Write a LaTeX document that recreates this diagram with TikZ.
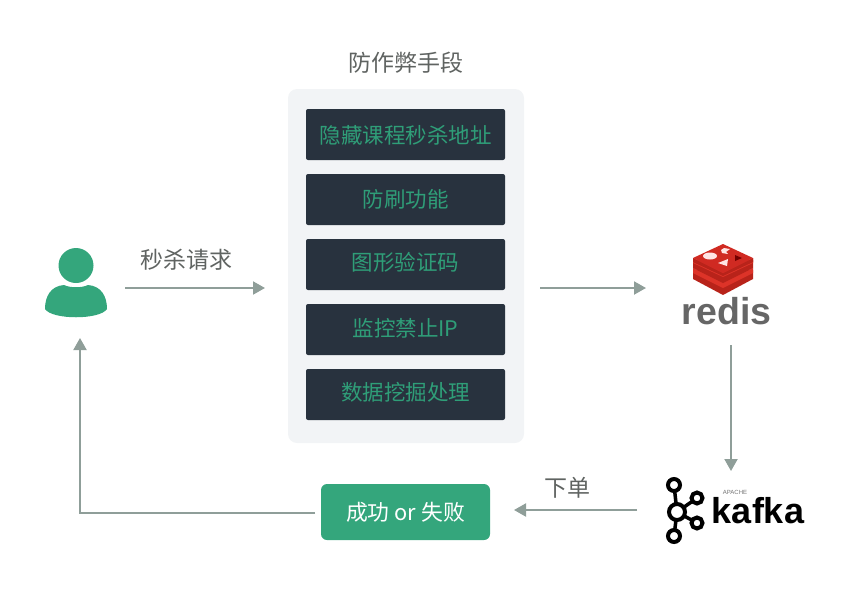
\documentclass[tikz,border=0pt]{standalone}
\usepackage{fontspec}
\setmainfont{Noto Sans CJK SC}
\newfontfamily\logofont{Liberation Sans}
\usetikzlibrary{arrows.meta,calc}
\definecolor{panelbg}{HTML}{F2F4F6}
\definecolor{darkbox}{HTML}{28323E}
\definecolor{mint}{HTML}{2F9E78}
\definecolor{usergreen}{HTML}{34A67C}
\definecolor{arrowgray}{HTML}{8F9E99}
\definecolor{labelgray}{HTML}{5F6361}
\definecolor{redA}{HTML}{DD3328}
\definecolor{redB}{HTML}{B8231A}
\definecolor{redC}{HTML}{D02A22}
\newcommand{\up}[2]{\raisebox{#1}[\height][\depth]{#2}}
\tikzset{
  x=1pt,y=-1pt,
  arr/.style={draw=arrowgray,line width=2pt,-{Triangle[length=12pt,width=13pt]}},
  cjklabel/.style={text=labelgray,font=\fontsize{23}{26}\selectfont,inner sep=0pt},
  tool/.style={fill=darkbox,rounded corners=2pt,minimum width=199pt,minimum height=51pt,inner sep=0pt,
    text=mint,font=\fontsize{21.5}{24}\selectfont},
  holder/.style={inner sep=0pt,outer sep=0pt},
  ring/.style={draw=black,line width=4pt,fill=white},
}
\begin{document}
\begin{tikzpicture}
\useasboundingbox (0,0) rectangle (859,600);
% panel
\node[holder,fill=panelbg,rounded corners=9pt,minimum width=236pt,minimum height=354pt] (panel) at (406,266) {};
\node[cjklabel] (title) at (406,63) {防作弊手段};
\node[tool] (t1) at (405.5,134.5) {\up{-1pt}{隐藏课程秒杀地址}};
\node[tool] (t2) at (405.5,199.5) {防刷功能};
\node[tool] (t3) at (405.5,264.5) {\up{2pt}{图形验证码}};
\node[tool] (t4) at (405.5,329.5) {\up{1pt}{监控禁止IP}};
\node[tool] (t5) at (405.5,394.5) {\up{2pt}{数据挖掘处理}};
% user
\node[holder,minimum width=62pt,minimum height=69pt] (user) at (76,282.5) {};
\fill[usergreen] (76,265.5) circle (17.5);
\fill[usergreen] (45,309) .. controls (45,296) and (51,286) .. (64,285) .. controls (70,288) and (82,288) .. (88,285)
  .. controls (101,286) and (107,296) .. (107,309) .. controls (100,320) and (52,320) .. (45,309) -- cycle;
\node[cjklabel] (req) at (186,260) {秒杀请求};
% redis
\node[holder,minimum width=90pt,minimum height=86pt] (redis) at (726,286) {};
\fill[redB] (693,279) -- (723,295) -- (753,279) -- (753,270) -- (693,270) -- cycle;
\fill[redA] (693,273) -- (723,288) -- (753,273) -- (753,268) -- (723,282) -- (693,268) -- cycle;
\fill[redB] (693,268) -- (723,283) -- (753,268) -- (753,260) -- (693,260) -- cycle;
\fill[redA] (693,263) -- (723,277) -- (753,263) -- (753,258) -- (723,272) -- (693,258) -- cycle;
\fill[redB] (693,258) -- (723,273) -- (753,258) -- (753,262) -- (723,276) -- (693,262) -- cycle;
\fill[redC] (693,258) -- (723,244) -- (753,258) -- (723,273) -- cycle;
\fill[white!90!red] (710,256) ellipse (7 and 3.5);
\fill[white!90!red] (718,263) -- (728,259) -- (727,266) -- cycle;
\fill[white!90!red] (721,250) -- (724,248) -- (730,249) -- (726,252) -- (728,254) -- (722,253) -- cycle;
\fill[red!45!black] (735,255) -- (742,258) -- (735,261) -- cycle;
\node[holder,text=black!60,font=\logofont\bfseries\fontsize{37.5}{40}\selectfont,anchor=base] (redisword) at (726.5,324.5) {redis};
% kafka
\node[holder,minimum width=144pt,minimum height=66pt] (kafka) at (735,510) {};
\draw[black,line width=3.5pt] (674,485) -- (677,512) -- (674,536) (677,512) -- (697,498) (677,512) -- (697,523);
\draw[ring] (674,485) circle (6);
\draw[ring] (677,512) circle (8);
\draw[ring] (697,498) circle (5.5);
\draw[ring] (697,523) circle (5.5);
\draw[ring] (674,536) circle (6);
\node[holder,text=black,font=\logofont\bfseries\fontsize{36}{40}\selectfont,anchor=base] (kafkaword) at (758,523) {kafka};
\node[holder,text=black!55,font=\logofont\fontsize{6}{7}\selectfont] (apache) at (735,492) {APACHE};
% result
\node[holder,fill=usergreen,rounded corners=6pt,minimum width=169pt,minimum height=56pt,text=white,
  font=\fontsize{21.8}{24}\selectfont] (result) at (405.5,512) {成功 or 失败};
\node[cjklabel] (order) at (567,488) {下单};
% connectors
\draw[arr] ($(user.east)+(18,5.5)$) -- ($(panel.west)+(-23,22)$);
\draw[arr] ($(panel.east)+(16,22)$) -- ($(redis.west)+(-35,2)$);
\draw[arr] ($(redis.south)+(5,16)$) -- ($(kafka.north)+(-4,-6)$);
\draw[arr] ($(kafka.west)+(-26,0)$) -- ($(result.east)+(24,-2)$);
\draw[arr] ($(result.west)+(-6,1)$) -| ($(user.south)+(4,21)$);
\end{tikzpicture}
\end{document}
